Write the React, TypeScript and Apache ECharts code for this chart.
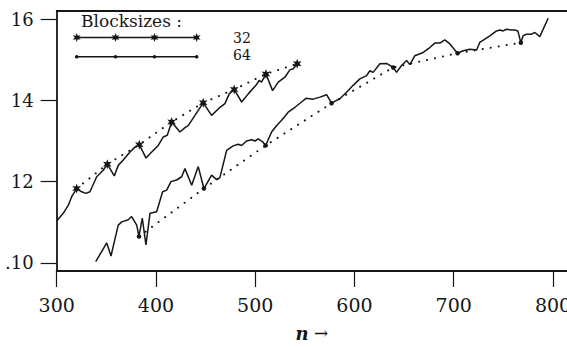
import React, { useEffect, useRef } from "react";
import * as echarts from "echarts";

const xTickValues = [300, 400, 500, 600, 700, 800];
const yTickValues = [10, 12, 14, 16];
const yTickTexts = [".10", "12", "14", "16"];
const legendTitle = "Blocksizes :";
const blockSizes = ["32", "64"];
const axisTitle = "n";

// Blocksize 32: measured curve
const curve32: [number, number][] = [
  [300, 11.03], [306.6, 11.22], [311.7, 11.42], [315.1, 11.63], [320.1, 11.83],
  [325.2, 11.75], [329.5, 11.71], [333.5, 11.75], [340.3, 12.12], [346.9, 12.28],
  [351, 12.43], [358, 12.14], [362, 12.4], [367, 12.53], [373.8, 12.73],
  [378.8, 12.85], [383.2, 12.91], [390, 12.58], [395.7, 12.73], [402.3, 12.89],
  [407.4, 13.1], [411.4, 13.14], [415.8, 13.47], [424.2, 13.22], [429.2, 13.33],
  [432.5, 13.38], [439.3, 13.63], [447.6, 13.94], [456.1, 13.63], [464.5, 13.83],
  [469.5, 13.92], [473.8, 14.16], [478.8, 14.27], [486.3, 13.96], [493, 14.16],
  [500.7, 14.37], [504, 14.49], [506.4, 14.45], [510.8, 14.65], [517.5, 14.24],
  [523.2, 14.45], [529.9, 14.57], [534.9, 14.75], [538.3, 14.78], [542.3, 14.9],
];
// Blocksize 32: points at multiples of the block size (stars, dotted trend)
const marks32: [number, number][] = [
  [320.1, 11.83], [351, 12.43], [383.2, 12.91], [415.8, 13.47],
  [447.6, 13.94], [478.8, 14.27], [510.8, 14.65], [542.3, 14.9],
];

// Blocksize 64: measured curve
const curve64: [number, number][] = [
  [339.3, 10.03], [350.4, 10.49], [354.7, 10.17], [362, 10.93], [365.5, 11.01],
  [372.1, 11.06], [375.5, 11.14], [380.6, 10.93], [382.9, 10.65], [386.2, 11.1],
  [389.9, 10.44], [394, 11.22], [400.7, 11.26], [406.7, 11.75], [410.8, 11.79],
  [415.1, 12.0], [420.8, 12.04], [425.9, 12.12], [429.2, 12.32], [436, 11.91],
  [442.6, 12.37], [448.3, 11.83], [456.1, 12.16], [461.1, 12.05], [464.4, 12.1],
  [471.2, 12.77], [477.8, 12.88], [482.9, 12.92], [486.3, 12.89], [491.3, 13.0],
  [496.4, 13.03], [499.7, 13.0], [503, 13.05], [507.5, 12.98], [510.5, 12.89],
  [516.5, 13.22], [521.6, 13.38], [526.6, 13.51], [533.2, 13.71], [540, 13.83],
  [546.7, 13.96], [551.1, 14.05], [558.4, 14.03], [565.2, 14.08], [571.9, 14.14],
  [576.9, 13.93], [582, 14.0], [585.3, 14.04], [592, 14.2], [598.7, 14.37],
  [605.4, 14.53], [612.2, 14.61], [615.5, 14.73], [618.8, 14.69], [625.6, 14.9],
  [632.3, 14.91], [639, 14.81], [642.4, 14.69], [647.4, 14.86], [652.5, 14.98],
  [655.8, 14.88], [660.8, 15.1], [669.2, 15.18], [675.9, 15.3], [681, 15.41],
  [686, 15.41], [691, 15.49], [696.1, 15.39], [703.8, 15.16], [709.5, 15.22],
  [716.2, 15.26], [723, 15.24], [726.3, 15.43], [731.3, 15.51], [736.4, 15.59],
  [743.1, 15.71], [746.4, 15.73], [749.8, 15.71], [753.2, 15.75], [758.2, 15.73],
  [761.5, 15.73], [764.6, 15.71], [767.6, 15.42], [769.9, 15.59], [773.3, 15.63],
  [778.3, 15.63], [781.7, 15.67], [786.7, 15.57], [795.1, 16.02],
];
const marks64: [number, number][] = [
  [382.9, 10.65], [448.3, 11.83], [510.5, 12.89], [576.9, 13.93],
  [639, 14.81], [703.8, 15.16], [767.6, 15.42],
];

const INK = "#161616";
const FONT = "'DejaVu Serif', 'Liberation Serif', serif";
const STAR: [number, number][] = [
  [0, -1], [0.225, -0.39], [0.866, -0.5], [0.45, 0], [0.866, 0.5], [0.225, 0.39],
  [0, 1], [-0.225, 0.39], [-0.866, 0.5], [-0.45, 0], [-0.866, -0.5], [-0.225, -0.39],
];
const starPath =
  "path://" + STAR.map((p, i) => (i === 0 ? "M" : "L") + p[0] + "," + p[1]).join("") + "Z";

function legendStar(cx: number, cy: number, r: number) {
  return {
    type: "polygon",
    shape: { points: STAR.map(([a, b]) => [cx + a * r, cy + b * r]) },
    style: { fill: INK },
    z: 10,
  };
}

export default function App() {
  const ref = useRef<HTMLDivElement>(null);
  useEffect(() => {
    if (!ref.current) return;
    const chart = echarts.init(ref.current, null, { renderer: "svg" });
    const lx0 = 76.7;
    const lx1 = 196.7;
    const lxs = [76.7, 115.5, 154.5, 196.7];
    const graphic: any[] = [
      {
        type: "text",
        x: 81,
        y: 21,
        style: { text: legendTitle, font: `17px ${FONT}`, fill: INK, textVerticalAlign: "middle" },
      },
      { type: "line", shape: { x1: lx0, y1: 37.5, x2: lx1, y2: 37.5 }, style: { stroke: INK, lineWidth: 1.5 } },
      ...lxs.map((x) => legendStar(x, 37.5, 4.5)),
      { type: "line", shape: { x1: lx0, y1: 56.7, x2: lx1, y2: 56.7 }, style: { stroke: INK, lineWidth: 1.5 } },
      ...lxs.map((x) => ({ type: "circle", shape: { cx: x, cy: 56.7, r: 1.8 }, style: { fill: INK } })),
      {
        type: "text",
        x: 233,
        y: 38,
        style: { text: blockSizes[0], font: `14px ${FONT}`, fill: INK, textVerticalAlign: "middle" },
      },
      {
        type: "text",
        x: 233,
        y: 54.5,
        style: { text: blockSizes[1], font: `14px ${FONT}`, fill: INK, textVerticalAlign: "middle" },
      },
    ];

    chart.setOption({
      animation: false,
      backgroundColor: "#ffffff",
      grid: {
        left: 56.7,
        right: 0,
        top: 11,
        bottom: 76,
        show: false,
        containLabel: false,
        outerBoundsMode: "none",
      },
      xAxis: [
        {
          type: "value",
          min: 300,
          max: 814.1,
          name: "{i|" + axisTitle + "} →",
          nameLocation: "middle",
          nameGap: 53,
          nameTextStyle: {
            fontFamily: FONT,
            fontSize: 17,
            color: INK,
            rich: { i: { fontStyle: "italic", fontWeight: "bold", fontFamily: FONT, fontSize: 18, color: INK } },
          },
          axisLine: { show: true, lineStyle: { color: INK, width: 1.8 } },
          axisTick: { show: true, inside: false, length: 16, customValues: xTickValues, lineStyle: { color: INK, width: 1.2 } },
          axisLabel: {
            customValues: xTickValues,
            margin: 24,
            fontFamily: FONT,
            fontSize: 19,
            color: INK,
          },
          splitLine: { show: false },
        },
        {
          type: "value",
          position: "top",
          min: 300,
          max: 814.1,
          axisLine: { show: true, lineStyle: { color: INK, width: 1.8 } },
          axisTick: { show: false },
          axisLabel: { show: false },
          splitLine: { show: false },
        },
      ],
      yAxis: {
        type: "value",
        min: 9.8,
        max: 16.2,
        axisLine: { show: true, lineStyle: { color: INK, width: 1.8 } },
        axisTick: { show: true, inside: false, length: 16, customValues: yTickValues, lineStyle: { color: INK, width: 1.2 } },
        axisLabel: {
          customValues: yTickValues,
          margin: 23,
          fontFamily: FONT,
          fontSize: 18,
          color: INK,
          formatter: (v: number) => {
            const i = yTickValues.indexOf(Math.round(v));
            return i >= 0 ? yTickTexts[i] : "";
          },
        },
        splitLine: { show: false },
      },
      series: [
        {
          name: "32",
          type: "line",
          data: curve32,
          symbol: "none",
          lineStyle: { color: INK, width: 1.5 },
          z: 3,
        },
        {
          name: "32 trend",
          type: "line",
          data: marks32,
          symbol: starPath,
          symbolSize: 10,
          symbolKeepAspect: true,
          itemStyle: { color: INK },
          lineStyle: { color: INK, width: 2, type: [0.1, 8], cap: "round" },
          z: 4,
        },
        {
          name: "64",
          type: "line",
          data: curve64,
          symbol: "none",
          lineStyle: { color: INK, width: 1.5 },
          z: 3,
        },
        {
          name: "64 trend",
          type: "line",
          data: marks64,
          symbol: "circle",
          symbolSize: 4.5,
          itemStyle: { color: INK },
          lineStyle: { color: INK, width: 2, type: [0.1, 8], cap: "round" },
          z: 4,
        },
      ],
      graphic,
    });
    return () => chart.dispose();
  }, []);
  return (
    <div
      ref={ref}
      style={{ position: "fixed", left: 0, top: 0, width: 567, height: 347, background: "#fff" }}
    />
  );
}
